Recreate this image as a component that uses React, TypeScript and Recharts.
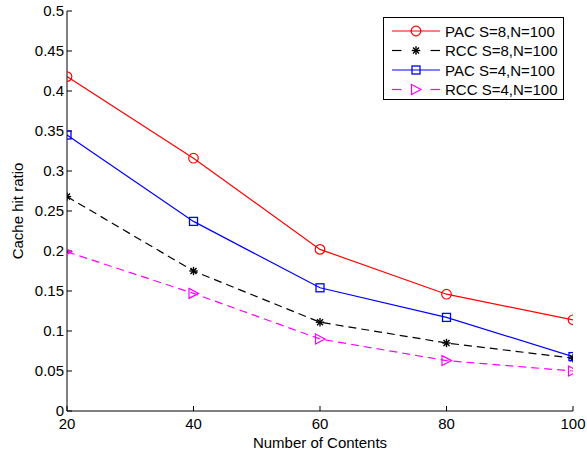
import React from 'react';
import { LineChart, Line, XAxis, YAxis, Legend } from 'recharts';

const contents = [20, 40, 60, 80, 100];
const pacS8 = [0.418, 0.316, 0.202, 0.146, 0.114];
const rccS8 = [0.268, 0.175, 0.111, 0.085, 0.066];
const pacS4 = [0.345, 0.237, 0.154, 0.117, 0.068];
const rccS4 = [0.199, 0.147, 0.09, 0.063, 0.05];

const xTicks = [20, 40, 60, 80, 100];
const yTicks = [0, 0.05, 0.1, 0.15, 0.2, 0.25, 0.3, 0.35, 0.4, 0.45, 0.5];

const seriesNames = ['PAC S=8,N=100', 'RCC S=8,N=100', 'PAC S=4,N=100', 'RCC S=4,N=100'];

const data = contents.map((c, i) => ({ x: c, a: pacS8[i], b: rccS8[i], c: pacS4[i], d: rccS4[i] }));

const FONT = '"Liberation Sans", Arial, sans-serif';

type MK = 'circle' | 'star' | 'square' | 'tri';

function Marker({ cx, cy, kind, color }: { cx: number; cy: number; kind: MK; color: string }) {
  if (kind === 'circle') return <circle cx={cx} cy={cy} r={4.8} fill="none" stroke={color} strokeWidth={1.2} />;
  if (kind === 'square') return <rect x={cx - 4} y={cy - 4} width={8} height={8} fill="none" stroke={color} strokeWidth={1.3} />;
  if (kind === 'tri')
    return (
      <polygon
        points={`${cx - 4.5},${cy - 5} ${cx + 5},${cy} ${cx - 4.5},${cy + 5}`}
        fill="none"
        stroke={color}
        strokeWidth={1.2}
      />
    );
  const s = 4.2;
  const d = 3;
  return (
    <g stroke={color} strokeWidth={1.4}>
      <line x1={cx - s} y1={cy} x2={cx + s} y2={cy} />
      <line x1={cx} y1={cy - s} x2={cx} y2={cy + s} />
      <line x1={cx - d} y1={cy - d} x2={cx + d} y2={cy + d} />
      <line x1={cx - d} y1={cy + d} x2={cx + d} y2={cy - d} />
    </g>
  );
}

const series: { key: string; color: string; dash?: string; kind: MK }[] = [
  { key: 'a', color: '#ff0000', kind: 'circle' },
  { key: 'b', color: '#000000', dash: '8 5', kind: 'star' },
  { key: 'c', color: '#0000ff', kind: 'square' },
  { key: 'd', color: '#ff00ff', dash: '8 5', kind: 'tri' },
];

function LegendBox() {
  const rows = [14, 33.5, 53, 72.5];
  return (
    <svg width={181} height={83} style={{ display: 'block' }}>
      <rect x={0.5} y={0.5} width={180} height={82} fill="#fff" stroke="#000" strokeWidth={1} />
      {series.map((s, i) => (
        <g key={s.key}>
          {s.dash ? (
            <g stroke={s.color} strokeWidth={1.2}>
              <line x1={9} x2={18.5} y1={rows[i]} y2={rows[i]} />
              <line x1={47.5} x2={57} y1={rows[i]} y2={rows[i]} />
            </g>
          ) : (
            <line x1={9} x2={57} y1={rows[i]} y2={rows[i]} stroke={s.color} strokeWidth={1.2} />
          )}
          <Marker cx={33} cy={rows[i]} kind={s.kind} color={s.color} />
          <text x={62} y={rows[i]} dominantBaseline="central" fontSize={15} fontFamily={FONT} fill="#000">
            {seriesNames[i]}
          </text>
        </g>
      ))}
    </svg>
  );
}

export default function App() {
  const tickStyle = { fontSize: 15, fontFamily: FONT, fill: '#000' };
  return (
    <div style={{ position: 'absolute', left: 0, top: 0, background: '#fff' }}>
      <LineChart width={587} height={453} data={data} margin={{ top: 11, right: 14, bottom: 12, left: 7 }}>
        <XAxis
          dataKey="x"
          type="number"
          domain={[20, 100]}
          ticks={xTicks}
          allowDataOverflow
          height={30}
          tickSize={-5}
          tickMargin={12}
          tick={tickStyle}
          stroke="#000"
          axisLine={{ stroke: '#000' }}
          tickLine={{ stroke: '#000' }}
          label={{
            content: (p: any) => (
              <text
                x={p.viewBox.x + p.viewBox.width / 2}
                y={p.viewBox.y + 31}
                textAnchor="middle"
                dominantBaseline="central"
                fontSize={15}
                fontFamily={FONT}
                fill="#000"
              >
                Number of Contents
              </text>
            ),
          }}
        />
        <XAxis
          xAxisId="top"
          orientation="top"
          dataKey="x"
          type="number"
          domain={[20, 100]}
          ticks={xTicks}
          allowDataOverflow
          height={0}
          tickSize={-5}
          tick={false}
          axisLine={{ stroke: '#000' }}
          tickLine={{ stroke: '#000' }}
        />
        <YAxis
          type="number"
          domain={[0, 0.5]}
          ticks={yTicks}
          allowDataOverflow
          width={60}
          tickSize={-5}
          tickMargin={8}
          tick={tickStyle}
          axisLine={{ stroke: '#000' }}
          tickLine={{ stroke: '#000' }}
          label={{
            content: (p: any) => {
              const x = p.viewBox.x + 10;
              const y = p.viewBox.y + p.viewBox.height / 2;
              return (
                <text
                  x={x}
                  y={y}
                  transform={`rotate(-90 ${x} ${y})`}
                  textAnchor="middle"
                  dominantBaseline="central"
                  fontSize={15}
                  fontFamily={FONT}
                  fill="#000"
                >
                  Cache hit ratio
                </text>
              );
            },
          }}
        />
        <YAxis
          yAxisId="right"
          orientation="right"
          type="number"
          domain={[0, 0.5]}
          ticks={yTicks}
          allowDataOverflow
          width={0}
          tickSize={-5}
          tick={false}
          axisLine={{ stroke: '#000' }}
          tickLine={{ stroke: '#000' }}
        />
        {series.map((s, i) => (
          <Line
            key={s.key}
            dataKey={s.key}
            name={seriesNames[i]}
            stroke={s.color}
            strokeWidth={1.2}
            strokeDasharray={s.dash}
            isAnimationActive={false}
            dot={(p: any) => <Marker key={`${s.key}-${p.index}`} cx={p.cx} cy={p.cy} kind={s.kind} color={s.color} />}
            activeDot={false}
          />
        ))}
        <Legend
          layout="vertical"
          align="center"
          verticalAlign="middle"
          wrapperStyle={{ left: 383, top: 17, width: 181, height: 83 }}
          content={() => <LegendBox />}
        />
      </LineChart>
    </div>
  );
}
